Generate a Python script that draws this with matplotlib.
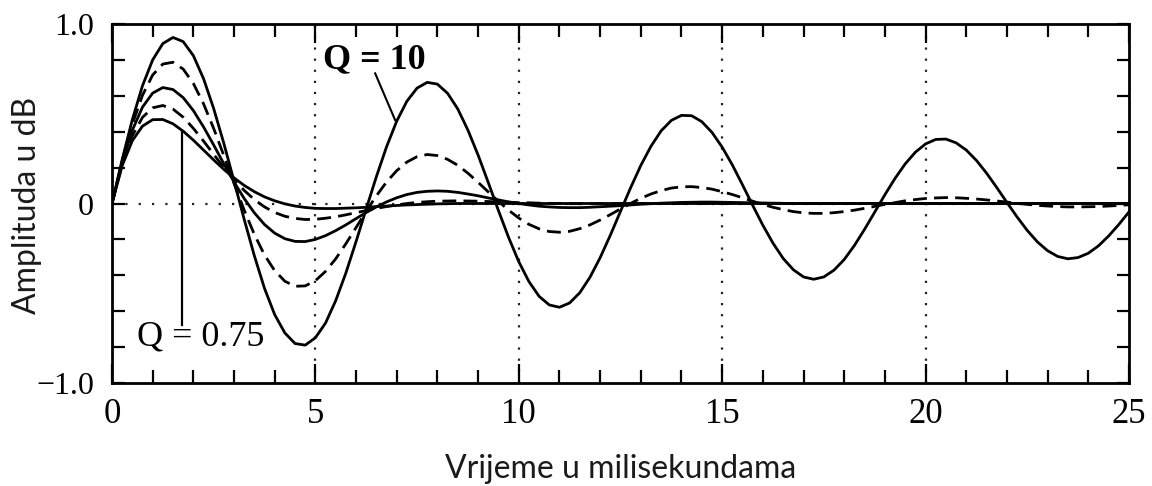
import numpy as np
import matplotlib
matplotlib.use("Agg")
import matplotlib.pyplot as plt
from matplotlib.ticker import MultipleLocator, FixedLocator

# ---------------- data ----------------
time_ms = np.linspace(0, 25, 101)   # 0.25 ms steps

amp_q10 = [
    0.000, 0.244, 0.467, 0.656, 0.800, 0.891, 0.925, 0.902, 0.824, 0.696,
    0.529, 0.335, 0.125, -0.088, -0.291, -0.473, -0.619, -0.721, -0.780, -0.789,
    -0.748, -0.666, -0.541, -0.387, -0.212, -0.030, 0.150, 0.316, 0.459, 0.570,
    0.643, 0.675, 0.665, 0.614, 0.527, 0.409, 0.270, 0.117, -0.039, -0.189,
    -0.324, -0.435, -0.517, -0.565, -0.578, -0.554, -0.497, -0.411, -0.302, -0.177,
    -0.044, 0.088, 0.212, 0.319, 0.405, 0.463, 0.491, 0.489, 0.456, 0.396,
    0.314, 0.215, 0.104, -0.010, -0.121, -0.221, -0.306, -0.369, -0.409, -0.422,
    -0.409, -0.371, -0.312, -0.234, -0.144, -0.048, 0.049, 0.140, 0.221, 0.286,
    0.332, 0.357, 0.359, 0.338, 0.298, 0.240, 0.169, 0.089, 0.006, -0.075,
    -0.150, -0.214, -0.263, -0.295, -0.308, -0.301, -0.277, -0.236, -0.181, -0.117,
    -0.047,
]

amp_q3 = [
    0.000, 0.237, 0.442, 0.603, 0.716, 0.777, 0.787, 0.749, 0.669, 0.556,
    0.418, 0.267, 0.112, -0.037, -0.172, -0.287, -0.374, -0.433, -0.461, -0.459,
    -0.430, -0.378, -0.308, -0.224, -0.134, -0.043, 0.043, 0.120, 0.183, 0.231,
    0.261, 0.273, 0.267, 0.246, 0.213, 0.169, 0.118, 0.065, 0.012, -0.037,
    -0.081, -0.116, -0.141, -0.156, -0.160, -0.155, -0.140, -0.119, -0.092, -0.062,
    -0.030, 0.001, 0.029, 0.053, 0.072, 0.086, 0.093, 0.094, 0.089, 0.080,
    0.066, 0.050, 0.032, 0.013, -0.005, -0.021, -0.034, -0.045, -0.052, -0.055,
    -0.055, -0.051, -0.045, -0.037, -0.027, -0.016, -0.005, 0.005, 0.015, 0.022,
    0.028, 0.031, 0.033, 0.032, 0.029, 0.025, 0.020, 0.014, 0.008, 0.001,
    -0.005, -0.010, -0.014, -0.017, -0.019, -0.019, -0.018, -0.017, -0.014, -0.011,
    -0.007,
]

amp_q1_5 = [
    0.000, 0.228, 0.408, 0.537, 0.615, 0.646, 0.635, 0.590, 0.518, 0.427,
    0.326, 0.221, 0.120, 0.028, -0.052, -0.117, -0.165, -0.196, -0.211, -0.212,
    -0.200, -0.179, -0.151, -0.119, -0.084, -0.050, -0.019, 0.009, 0.032, 0.050,
    0.062, 0.068, 0.070, 0.068, 0.062, 0.053, 0.043, 0.031, 0.020, 0.009,
    0.000, -0.008, -0.015, -0.019, -0.022, -0.023, -0.023, -0.021, -0.018, -0.015,
    -0.012, -0.008, -0.004, -0.001, 0.002, 0.004, 0.006, 0.007, 0.008, 0.008,
    0.007, 0.006, 0.005, 0.004, 0.003, 0.002, 0.001, 0.000, 0.000, 0.000,
    0.000, 0.000, 0.000, 0.000, 0.000, 0.000, 0.000, 0.000, 0.000, 0.000,
    0.000, 0.000, 0.000, 0.000, 0.000, 0.000, 0.000, 0.000, 0.000, 0.000,
    0.000, 0.000, 0.000, 0.000, 0.000, 0.000, 0.000, 0.000, 0.000, 0.000,
    0.000,
]

amp_q1 = [
    0.000, 0.219, 0.377, 0.480, 0.533, 0.546, 0.526, 0.481, 0.419, 0.348,
    0.274, 0.201, 0.133, 0.073, 0.022, -0.019, -0.050, -0.071, -0.083, -0.089,
    -0.088, -0.082, -0.074, -0.063, -0.051, -0.039, -0.027, -0.017, -0.008, 0.000,
    0.006, 0.010, 0.013, 0.014, 0.015, 0.014, 0.013, 0.011, 0.009, 0.007,
    0.005, 0.004, 0.002, 0.001, 0.000, -0.001, -0.001, -0.001, -0.001, -0.001,
    0.000, 0.000, 0.000, 0.000, 0.000, 0.000, 0.000, 0.000, 0.000, 0.000,
    0.000, 0.000, 0.000, 0.000, 0.000, 0.000, 0.000, 0.000, 0.000, 0.000,
    0.000, 0.000, 0.000, 0.000, 0.000, 0.000, 0.000, 0.000, 0.000, 0.000,
    0.000, 0.000, 0.000, 0.000, 0.000, 0.000, 0.000, 0.000, 0.000, 0.000,
    0.000, 0.000, 0.000, 0.000, 0.000, 0.000, 0.000, 0.000, 0.000, 0.000,
    0.000,
]

amp_q0_75 = [
    0.000, 0.210, 0.350, 0.431, 0.467, 0.468, 0.444, 0.403, 0.353, 0.298,
    0.243, 0.190, 0.143, 0.101, 0.066, 0.037, 0.015, -0.002, -0.014, -0.022,
    -0.027, -0.028, -0.028, -0.026, -0.024, -0.021, -0.017, -0.014, -0.011, -0.008,
    -0.006, -0.004, -0.002, -0.001, 0.000, 0.000, 0.000, 0.000, 0.000, 0.000,
    0.000, 0.000, 0.000, 0.000, 0.000, 0.000, 0.000, 0.000, 0.000, 0.000,
    0.000, 0.000, 0.000, 0.000, 0.000, 0.000, 0.000, 0.000, 0.000, 0.000,
    0.000, 0.000, 0.000, 0.000, 0.000, 0.000, 0.000, 0.000, 0.000, 0.000,
    0.000, 0.000, 0.000, 0.000, 0.000, 0.000, 0.000, 0.000, 0.000, 0.000,
    0.000, 0.000, 0.000, 0.000, 0.000, 0.000, 0.000, 0.000, 0.000, 0.000,
    0.000, 0.000, 0.000, 0.000, 0.000, 0.000, 0.000, 0.000, 0.000, 0.000,
    0.000,
]

x_ticks = [0, 5, 10, 15, 20, 25]
x_tick_labels = ["0", "5", "10", "15", "20", "25"]
y_ticks = [-1.0, 0.0, 1.0]
y_tick_labels = ["\u22121.0", "0", "1.0"]
dotted_x = [5, 10, 15, 20]

x_label = "Vrijeme u milisekundama"
y_label = "Amplituda u dB"
label_q_high = "Q = 10"
label_q_low = "Q = 0.75"

# ---------------- figure ----------------
fig = plt.figure(figsize=(11.52, 4.86), dpi=100)
ax = fig.add_axes([0.0972, 0.2119, 0.8828, 0.7387])

# reference dotted lines
for xv in dotted_x:
    ax.axvline(xv, color="#222222", lw=1.6, linestyle=(0, (1, 4)), zorder=1)
ax.axhline(0, color="#222222", lw=1.6, linestyle=(0, (1, 5)), zorder=1)

lw = 2.0
dash = (0, (5, 2.6))
ax.plot(time_ms, amp_q0_75, color="black", lw=lw, zorder=3)
ax.plot(time_ms, amp_q1, color="black", lw=lw, linestyle=dash, zorder=3)
ax.plot(time_ms, amp_q1_5, color="black", lw=lw, zorder=3)
ax.plot(time_ms, amp_q3, color="black", lw=lw, linestyle=dash, zorder=3)
ax.plot(time_ms, amp_q10, color="black", lw=lw, zorder=3)

ax.set_xlim(0, 25)
ax.set_ylim(-1, 1)

# annotations
ax.text(6.44, 0.80, label_q_high, ha="center", va="center",
        fontfamily="Liberation Serif", fontweight="bold", fontsize=26, zorder=5)
ax.plot([6.47, 6.96], [0.725, 0.465], color="black", lw=1.5, zorder=4)
ax.text(2.19, -0.745, label_q_low, ha="center", va="center",
        fontfamily="Liberation Serif", fontsize=26, zorder=5)
ax.plot([1.71, 1.71], [-0.675, 0.40], color="black", lw=1.6, zorder=4)

# spines and ticks
for sp in ax.spines.values():
    sp.set_linewidth(2.0)
ax.xaxis.set_major_locator(FixedLocator(x_ticks))
ax.set_xticklabels(x_tick_labels)
ax.xaxis.set_minor_locator(MultipleLocator(1))
ax.yaxis.set_major_locator(FixedLocator(y_ticks))
ax.set_yticklabels(y_tick_labels)
ax.yaxis.set_minor_locator(MultipleLocator(0.2))

ax.tick_params(axis="x", which="both", direction="in", top=True, bottom=True,
               width=1.6)
ax.tick_params(axis="x", which="major", length=14, pad=11, labelsize=25)
ax.tick_params(axis="x", which="minor", length=9.5)
ax.tick_params(axis="y", which="both", direction="in", left=True, right=True,
               width=1.6, length=9)
ax.tick_params(axis="y", which="major", pad=13, labelsize=23)
for lab in ax.get_xticklabels() + ax.get_yticklabels():
    lab.set_fontfamily("Liberation Serif")

fig.text(0.539, 0.0165, x_label, ha="center", va="baseline",
         fontfamily="Lato", fontsize=23, color="#1a1a1a")
fig.text(0.0234, 0.577, y_label, ha="center", va="center", rotation=90,
         fontfamily="Lato", fontsize=23, color="#1a1a1a")

fig.savefig("out.png", dpi=100)
